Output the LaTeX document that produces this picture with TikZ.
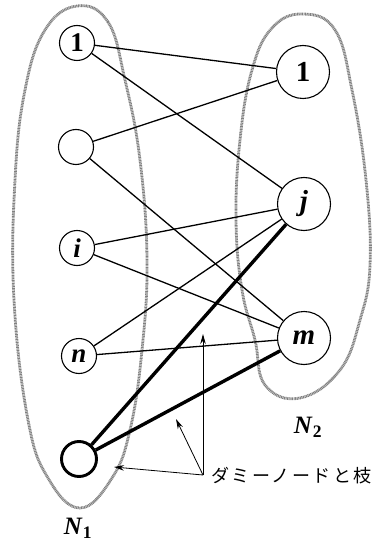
\documentclass[tikz,border=0pt]{standalone}
\usepackage{fontspec}
\setmainfont{Liberation Serif}
\newfontfamily\jpfont[LetterSpace=14]{Noto Sans CJK JP}
\usetikzlibrary{arrows.meta}
\begin{document}
\begin{tikzpicture}[x=1pt,y=-1pt,
  group/.style={draw=black!50, line width=2.8pt, dash pattern=on 1pt off 0.6pt},
  lnode/.style={circle, draw, line width=1.1pt, fill=white, minimum size=35pt, inner sep=0pt, font=\fontsize{27}{27}\selectfont\bfseries},
  rnode/.style={circle, draw, line width=1.1pt, fill=white, minimum size=53pt, inner sep=0pt, font=\fontsize{29}{29}\selectfont\bfseries},
  dnode/.style={circle, draw, line width=2.9pt, fill=white, minimum size=35pt, inner sep=0pt},
  edgeline/.style={line width=1.3pt},
  dedge/.style={line width=3.4pt},
  ptr/.style={line width=0.8pt, -{Stealth[length=10pt,width=5.5pt]}},
  lbl/.style={font=\fontsize{25}{25}\selectfont\bfseries}
]
\useasboundingbox (0,0) rectangle (379,545);

% groups
\draw[group] plot[smooth cycle, tension=0.7] coordinates {(77,6) (108,22) (125,80) (140,160) (147,260) (142,350) (130,430) (112,478) (80,508) (48,478) (28,420) (14,300) (15,180) (25,90) (45,30)};
\draw[group] plot[smooth cycle, tension=0.7] coordinates {(303,14) (335,30) (352,90) (366,180) (370,265) (360,320) (340,370) (300,398) (265,385) (255,340) (242,290) (236,220) (240,140) (252,70) (272,28)};

% left nodes
\node[lnode] (a1) at (77,43) {1};
\node[lnode] (a2) at (76,147) {};
\node[lnode] (ai) at (77,248) {\textit{i}};
\node[lnode] (an) at (79,356) {\textit{n}};
\node[dnode] (ad) at (79,459) {};

% right nodes
\node[rnode] (b1) at (303,72) {1};
\node[rnode] (bj) at (304,204) {\textit{j}};
\node[rnode] (bm) at (304,338) {\textit{m}};

% edges
\draw[edgeline] (a1) -- (b1);
\draw[edgeline] (a1) -- (bj);
\draw[edgeline] (a2) -- (b1);
\draw[edgeline] (a2) -- (bm);
\draw[edgeline] (ai) -- (bj);
\draw[edgeline] (ai) -- (bm);
\draw[edgeline] (an) -- (bj);
\draw[edgeline] (an) -- (bm);
\draw[dedge] (ad) -- (bj);
\draw[dedge] (ad) -- (bm);

% labels
\node[lbl] (n1) at (78,528) {\textit{N}\textsubscript{1}};
\node[lbl] (n2) at (308,427) {\textit{N}\textsubscript{2}};

% pointer
\coordinate (jn) at (203,475);
\coordinate (t1) at (203,334);
\coordinate (t2) at (176,419);
\coordinate (t3) at (114,467);
\node[anchor=west, inner sep=0pt, font=\jpfont\fontsize{18}{18}\selectfont] (txt) at (211,476) {ダミーノードと枝};
\draw[ptr] (jn) -- (t1);
\draw[ptr] (jn) -- (t2);
\draw[ptr] (jn) -- (t3);
\end{tikzpicture}
\end{document}
